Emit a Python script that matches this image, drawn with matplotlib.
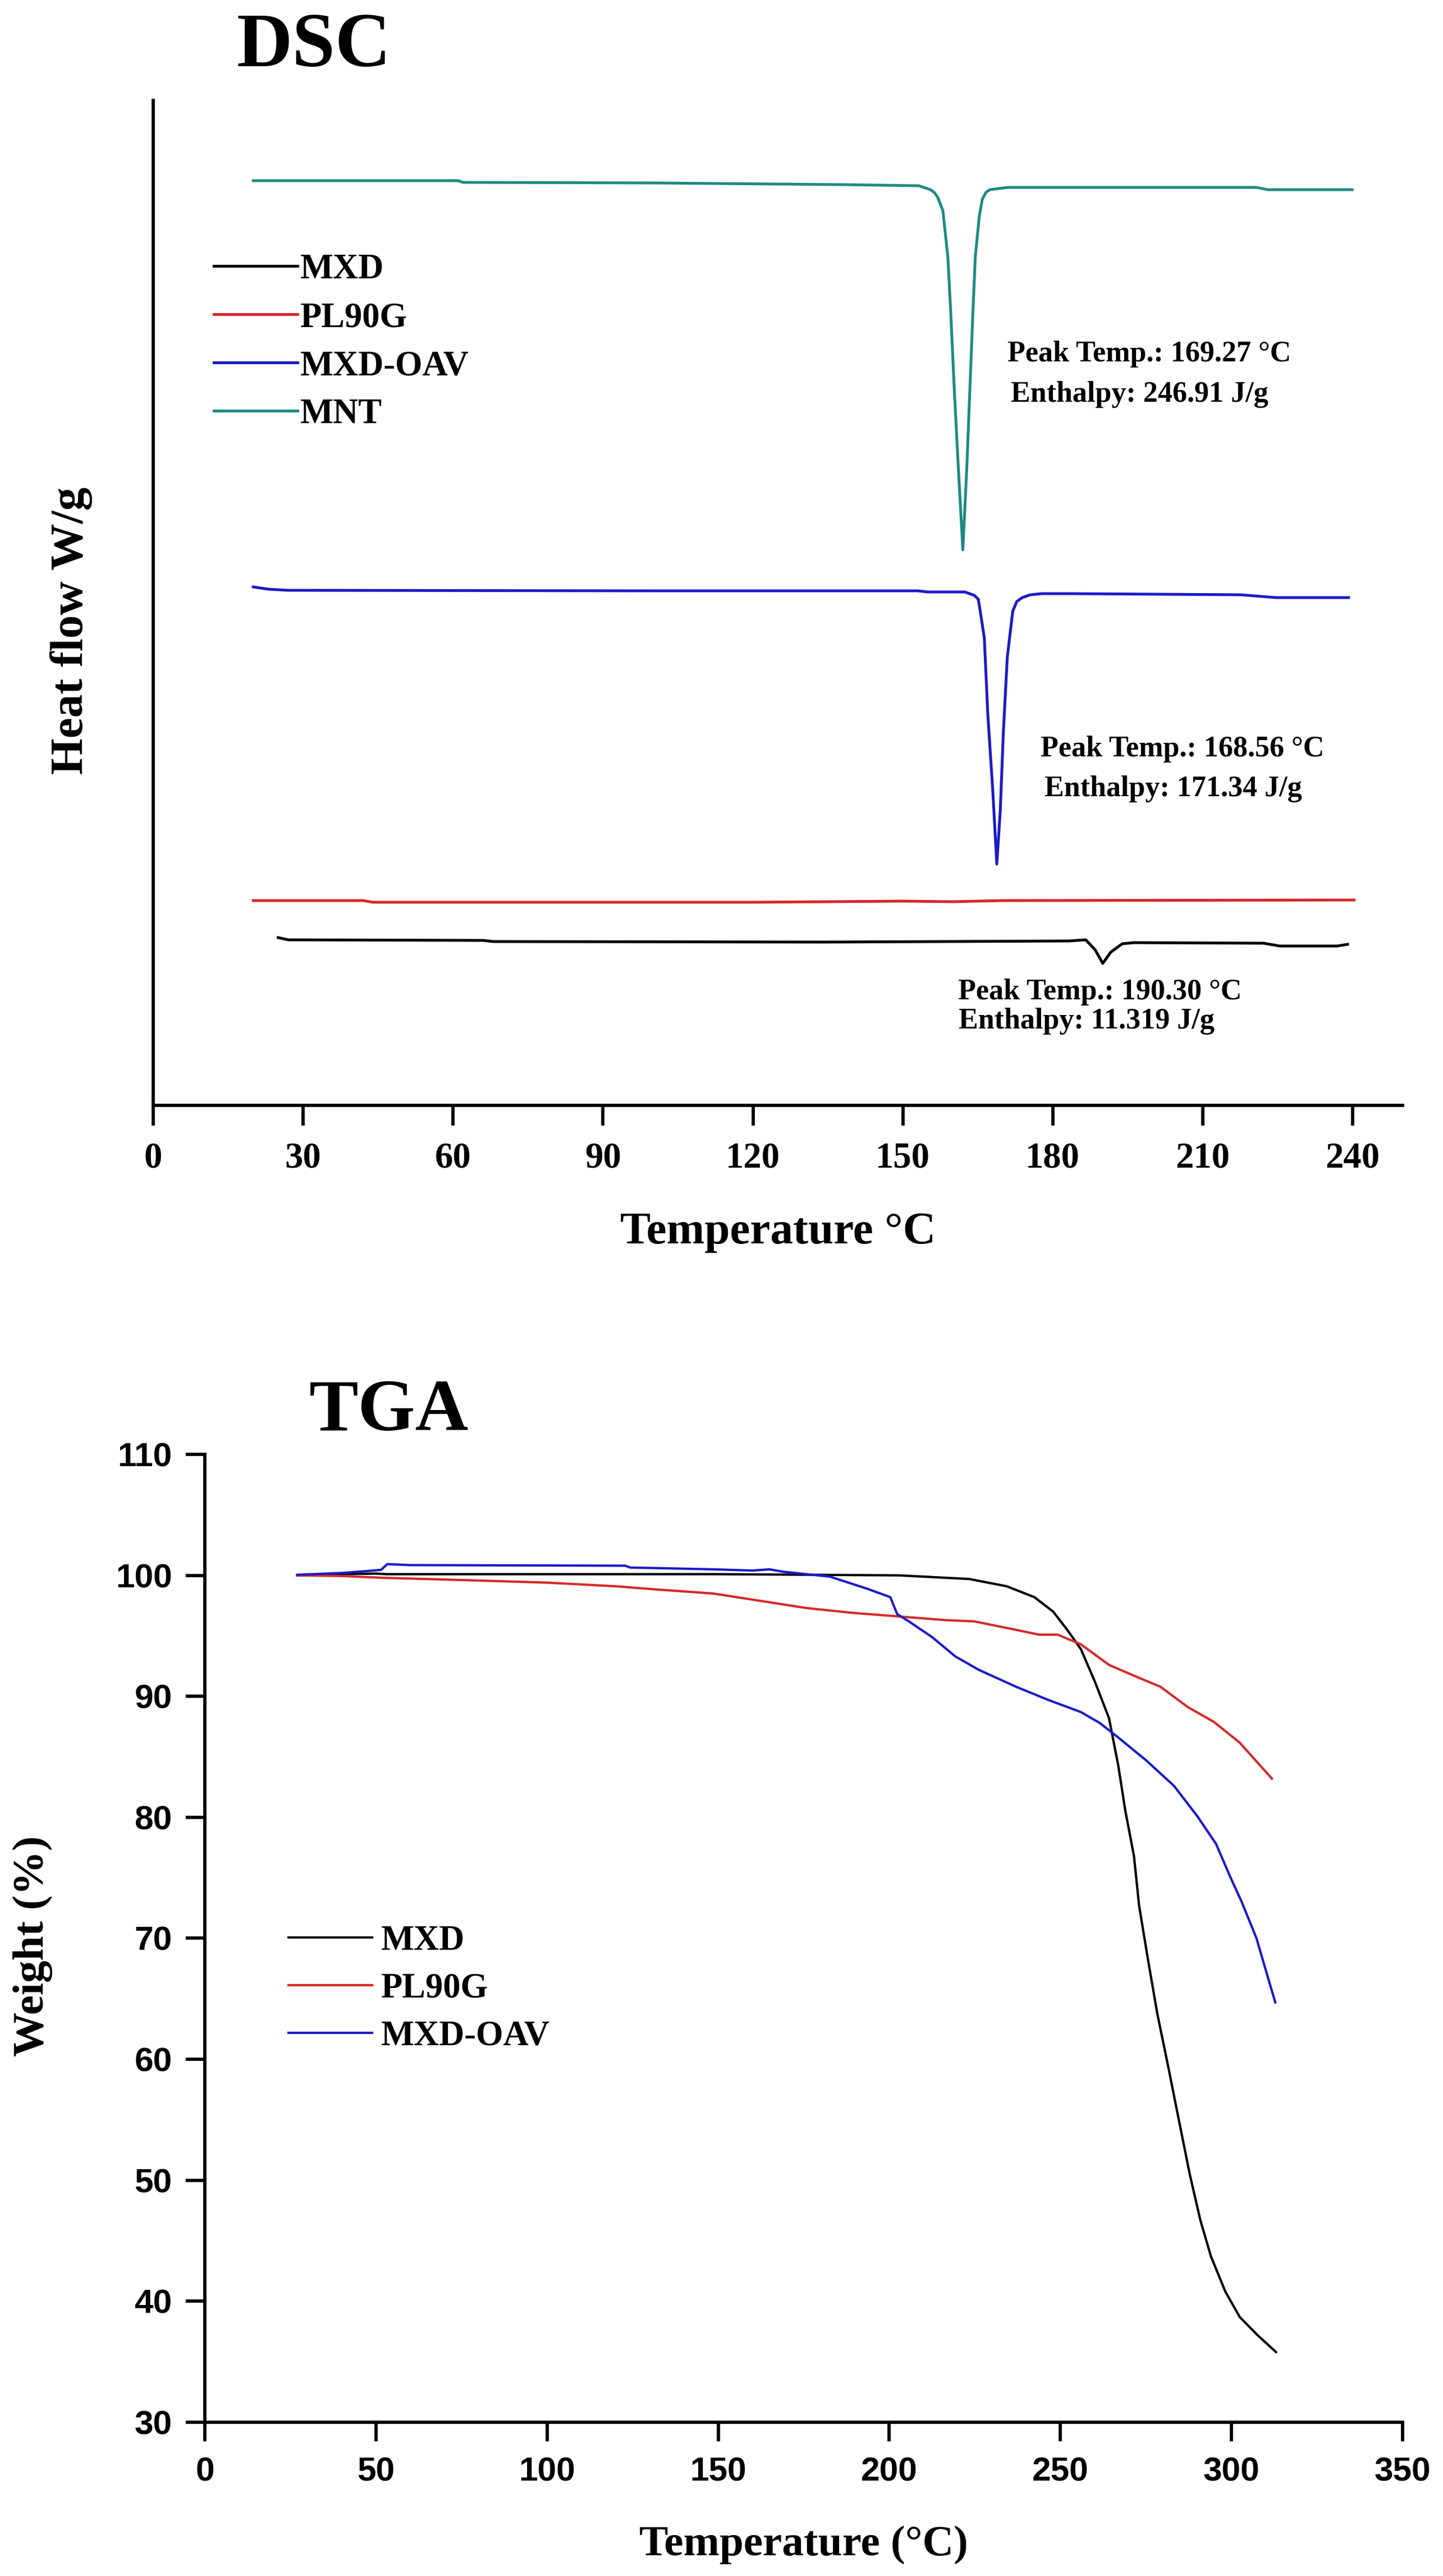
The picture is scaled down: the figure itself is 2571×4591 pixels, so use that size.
import matplotlib
matplotlib.use("Agg")
import matplotlib.pyplot as plt

serif = "Liberation Serif"
sans = "Liberation Sans"

# ---- DSC data (temperature in C, heat flow in arbitrary offset units) ----
mnt_t = [20, 40, 61, 62, 100, 138, 153.2, 155.5, 156.3, 157.0, 158.0, 159.0, 159.6, 160.3, 161.1,
         162.0, 162.8, 163.4, 164.0, 164.5, 165.3, 165.9, 166.6, 167.4, 170.9, 220.8, 223.0, 239.9]
mnt_hf = [16.48, 16.48, 16.48, 16.45, 16.44, 16.41, 16.39, 16.32, 16.27, 16.18, 15.95, 15.13, 14.10,
          12.74, 11.37, 9.90, 11.37, 12.74, 14.10, 15.13, 15.85, 16.15, 16.27, 16.32, 16.36, 16.36,
          16.32, 16.32]

oav_t = [20, 23, 27, 100, 153, 155, 162.4, 164.3, 165.1, 165.6, 166.3, 167.0, 168.0, 168.8, 169.5,
         170.1, 170.9, 172.0, 172.8, 173.9, 175.5, 177.8, 184, 217.6, 224.6, 239.2]
oav_hf = [9.24, 9.20, 9.18, 9.17, 9.17, 9.15, 9.15, 9.09, 9.02, 8.74, 8.33, 6.97, 5.60, 4.30, 5.26,
          6.63, 7.99, 8.81, 8.98, 9.05, 9.10, 9.12, 9.12, 9.10, 9.05, 9.05]

pl_t = [20, 42, 44, 120, 150, 160, 170, 240.3]
pl_hf = [3.65, 3.65, 3.62, 3.62, 3.64, 3.63, 3.65, 3.66]

mxd_t = [25, 27, 66, 68, 134, 183.2, 186.6, 188.5, 190.0, 191.6, 193.9, 196.2, 222.2, 225.4, 236.9, 239]
mxd_hf = [2.99, 2.95, 2.94, 2.92, 2.91, 2.93, 2.95, 2.77, 2.53, 2.73, 2.88, 2.90, 2.89, 2.84, 2.84, 2.87]

dsc_notes = [
    (170.9, 13.39, "Peak Temp.: 169.27 \u00b0C"),
    (171.6, 12.67, "Enthalpy: 246.91 J/g"),
    (177.6, 6.35, "Peak Temp.: 168.56 \u00b0C"),
    (178.3, 5.64, "Enthalpy: 171.34 J/g"),
    (161.1, 2.02, "Peak Temp.: 190.30 \u00b0C"),
    (161.2, 1.50, "Enthalpy: 11.319 J/g"),
]

# ---- TGA data (temperature in C, weight in %) ----
tga_mxd_t = [27, 40, 50, 53, 100, 150, 203, 223.4, 234.3, 242.4, 247.9, 252, 256, 260.1, 264.2,
             266.9, 269, 271.5, 273, 275.5, 278.3, 281.5, 284.6, 287.8, 290.9, 294.0, 298.2,
             302.4, 307.6, 313]
tga_mxd_w = [100.0, 100.1, 100.15, 100.1, 100.1, 100.1, 100.0, 99.7, 99.1, 98.2, 97.0, 95.5, 93.9,
             91.2, 88.2, 84.3, 80.5, 76.8, 72.7, 68.4, 63.8, 59.4, 55.0, 50.5, 46.7, 43.7, 40.8,
             38.7, 37.2, 35.8]

tga_pl_t = [27, 40, 52, 77, 100, 120, 133.7, 148.6, 162.2, 175.8, 189.4, 203, 216.6, 224.8, 237,
            243.8, 249.2, 256, 264.2, 272.4, 279.2, 287.3, 294.8, 302.3, 307.7, 311.8]
tga_pl_w = [100.0, 99.95, 99.8, 99.6, 99.4, 99.1, 98.8, 98.5, 97.9, 97.3, 96.9, 96.6, 96.3, 96.2,
            95.5, 95.1, 95.1, 94.3, 92.6, 91.6, 90.8, 89.1, 87.9, 86.2, 84.5, 83.2]

tga_oav_t = [27, 40, 48, 51.5, 53.3, 60, 122.8, 124.3, 148.6, 160, 165, 169, 182.6, 193.5, 200.3,
             202.3, 205.7, 212.5, 219.3, 226.1, 237, 246.5, 256, 261.5, 266.9, 275.1, 283.2, 290,
             295.5, 299.6, 303, 307.3, 310.4, 312.8]
tga_oav_w = [100.05, 100.2, 100.37, 100.46, 100.93, 100.85, 100.8, 100.65, 100.5, 100.4, 100.5,
             100.3, 99.9, 98.9, 98.2, 96.8, 96.2, 94.9, 93.3, 92.2, 90.8, 89.7, 88.7, 87.8, 86.6,
             84.7, 82.6, 80.1, 77.8, 75.1, 73.0, 70.0, 67.0, 64.7]

dsc_ticks = list(range(0, 241, 30))
tga_xticks = list(range(0, 351, 50))
tga_yticks = list(range(30, 111, 10))

c_black = "#000000"
c_red = "#d42a2a"
c_blue = "#1a1ac8"
c_teal = "#1f8a82"

fig = plt.figure(figsize=(2571 / 300, 4591 / 300), dpi=300)

# ---------------- DSC ----------------
ax1 = fig.add_axes([0.1062, 0.5709, 0.8658, 0.3901])
ax1.plot(mxd_t, mxd_hf, color=c_black, lw=1.2, label="MXD")
ax1.plot(pl_t, pl_hf, color=c_red, lw=1.2, label="PL90G")
ax1.plot(oav_t, oav_hf, color=c_blue, lw=1.2, label="MXD-OAV")
ax1.plot(mnt_t, mnt_hf, color=c_teal, lw=1.2, label="MNT")
ax1.set_xlim(0, 250)
ax1.set_ylim(0, 17.91)
ax1.set_xticks(dsc_ticks)
ax1.set_yticks([])
for s in ["top", "right"]:
    ax1.spines[s].set_visible(False)
for s in ["left", "bottom"]:
    ax1.spines[s].set_linewidth(1.4)
ax1.tick_params(axis="x", direction="out", length=8.6, width=1.4, pad=7)
for lb in ax1.get_xticklabels():
    lb.set_fontfamily(serif)
    lb.set_fontweight("bold")
    lb.set_fontsize(15.5)

for x, y, s in dsc_notes:
    ax1.text(x, y, s, fontfamily=serif, fontweight="bold", fontsize=12.5, ha="left", va="center")

ax1.set_xlabel("Temperature \u00b0C", fontfamily=serif, fontweight="bold", fontsize=19.5, va="center")
ax1.xaxis.set_label_coords(0.5, -0.1262)
ax1.set_ylabel("Heat flow W/g", fontfamily=serif, fontweight="bold", fontsize=20, va="center")
ax1.yaxis.set_label_coords(-0.0656, 0.4724)

leg1 = ax1.legend(loc="upper left", bbox_to_anchor=(0.0485, 0.8476), frameon=False, borderpad=0,
                  borderaxespad=0, handlelength=2.38, handletextpad=0.08, labelspacing=0.45,
                  prop={"family": serif, "weight": "bold", "size": 15})

fig.text(559 / 2571, 1 - 118 / 4591, "DSC", fontfamily=serif, fontweight="bold", fontsize=33,
         ha="center", va="baseline")

# ---------------- TGA ----------------
ax2 = fig.add_axes([0.142, 0.0597, 0.830, 0.3757])
ax2.plot(tga_mxd_t, tga_mxd_w, color=c_black, lw=1.0, label="MXD")
ax2.plot(tga_pl_t, tga_pl_w, color=c_red, lw=1.0, label="PL90G")
ax2.plot(tga_oav_t, tga_oav_w, color=c_blue, lw=1.0, label="MXD-OAV")
ax2.set_xlim(0, 350)
ax2.set_ylim(30, 110)
ax2.set_xticks(tga_xticks)
ax2.set_yticks(tga_yticks)
for s in ["top", "right"]:
    ax2.spines[s].set_visible(False)
for s in ["left", "bottom"]:
    ax2.spines[s].set_linewidth(1.4)
ax2.tick_params(axis="x", direction="out", length=8.2, width=1.4, pad=6.5)
ax2.tick_params(axis="y", direction="out", length=8.2, width=1.4, pad=5.8)
for lb in ax2.get_xticklabels() + ax2.get_yticklabels():
    lb.set_fontfamily(sans)
    lb.set_fontweight("bold")
    lb.set_fontsize(14.5)

ax2.set_xlabel("Temperature (\u00b0C)", fontfamily=serif, fontweight="bold", fontsize=18.5, va="center")
ax2.xaxis.set_label_coords(0.5, -0.1264)
ax2.set_ylabel("Weight (%)", fontfamily=serif, fontweight="bold", fontsize=19, va="center")
ax2.yaxis.set_label_coords(-0.1439, 0.492)

leg2 = ax2.legend(loc="upper left", bbox_to_anchor=(0.0698, 0.5136), frameon=False, borderpad=0,
                  borderaxespad=0, handlelength=2.38, handletextpad=0.25, labelspacing=0.43,
                  prop={"family": serif, "weight": "bold", "size": 15})

fig.text(693 / 2571, 1 - 2549 / 4591, "TGA", fontfamily=serif, fontweight="bold", fontsize=31.5,
         ha="center", va="baseline")

fig.savefig("out.png", dpi=300, facecolor="white")
